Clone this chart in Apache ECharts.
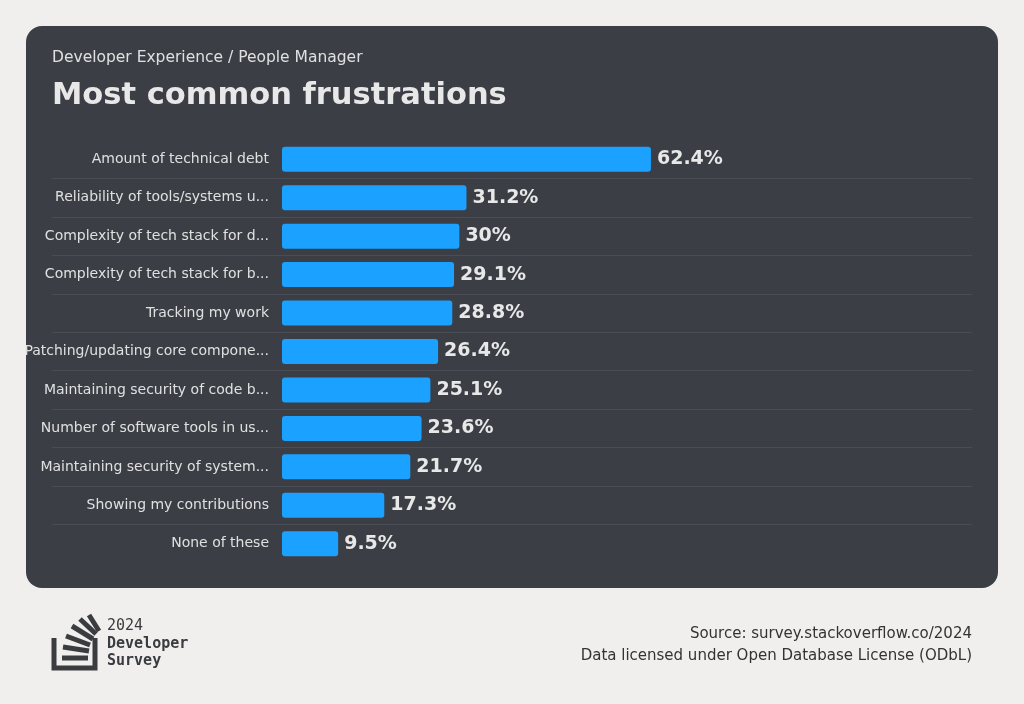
<!DOCTYPE html>
<html><head><meta charset="utf-8">
<script src="https://cdn.jsdelivr.net/npm/echarts@6/dist/echarts.min.js"></script>
<style>html,body{margin:0;background:#f0efed}#c{width:1024px;height:704px}</style>
</head><body><div id="c"></div>
<script>
var categories = ['Amount of technical debt', 'Reliability of tools/systems u...', 'Complexity of tech stack for d...',
  'Complexity of tech stack for b...', 'Tracking my work', 'Patching/updating core compone...',
  'Maintaining security of code b...', 'Number of software tools in us...', 'Maintaining security of system...',
  'Showing my contributions', 'None of these'];
var values = [62.4, 31.2, 30, 29.1, 28.8, 26.4, 25.1, 23.6, 21.7, 17.3, 9.5];

var chart = echarts.init(document.getElementById('c'));
var font = 'DejaVu Sans';
var logo = [];
// tray
logo.push({type: 'polyline', shape: {points: [[54, 638], [54, 668], [95, 668], [95, 638]]},
  style: {stroke: '#3a3c40', lineWidth: 5, fill: null}, z: 10});
var strokes = [[[62, 658], [88, 658]], [[63, 647], [89, 651]], [[66, 636], [90, 645]], [[72, 626], [93, 639]], [[80, 619], [96, 634]], [[89, 615], [99, 631]]];
strokes.forEach(function (s) {
  logo.push({type: 'line', shape: {x1: s[0][0], y1: s[0][1], x2: s[1][0], y2: s[1][1]},
    style: {stroke: '#3a3c40', lineWidth: 5}, z: 10});
});
chart.setOption({
  textStyle: {fontFamily: font},
  graphic: [
    {type: 'rect', shape: {x: 26, y: 26, width: 972, height: 562, r: 16}, style: {fill: '#3b3e45'}, z: -10},
    {type: 'text', left: 52, top: 50, style: {text: 'Developer Experience / People Manager', fill: '#e0e0e0', font: '15.5px ' + font}},
    {type: 'text', left: 52, top: 81, style: {text: 'Most common frustrations', fill: '#e8e8e8', font: 'bold 30.5px ' + font}},
    {type: 'text', left: 107, top: 619, style: {text: '2024', fill: '#3a3c40', font: '15px "DejaVu Sans Mono"'}},
    {type: 'text', left: 107, top: 636, style: {text: 'Developer\nSurvey', fill: '#3a3c40', font: 'bold 15px "DejaVu Sans Mono"', lineHeight: 17}},
    {type: 'text', right: 52, top: 627, style: {text: 'Source: survey.stackoverflow.co/2024', fill: '#333', font: '15px ' + font}},
    {type: 'text', right: 52, top: 649, style: {text: 'Data licensed under Open Database License (ODbL)', fill: '#333', font: '15px ' + font}}
  ].concat(logo),
  grid: [
    {left: 282, right: 52, top: 140, bottom: 141},
    {left: 52, right: 52, top: 178.4, bottom: 179.4}
  ],
  xAxis: [
    {type: 'value', min: 0, max: 116.7, show: false},
    {type: 'value', gridIndex: 1, show: false}
  ],
  yAxis: [
    {type: 'category', data: categories, inverse: true,
      axisLine: {show: false}, axisTick: {show: false}, splitLine: {show: false},
      axisLabel: {color: '#e0e0e0', fontSize: 14, margin: 13}},
    {type: 'category', gridIndex: 1, data: categories.slice(1, 10), inverse: true,
      axisLine: {show: false}, axisTick: {show: false}, axisLabel: {show: false},
      splitLine: {show: true, lineStyle: {color: '#4a4d55', width: 1}}}
  ],
  series: [{
    type: 'bar', data: values, barWidth: 25,
    itemStyle: {color: '#1ba1ff', borderRadius: 3},
    label: {show: true, position: 'right', distance: 6, formatter: '{c}%', color: '#e8e8e8', fontSize: 19, fontWeight: 'bold'}
  }]
});
</script></body></html>
